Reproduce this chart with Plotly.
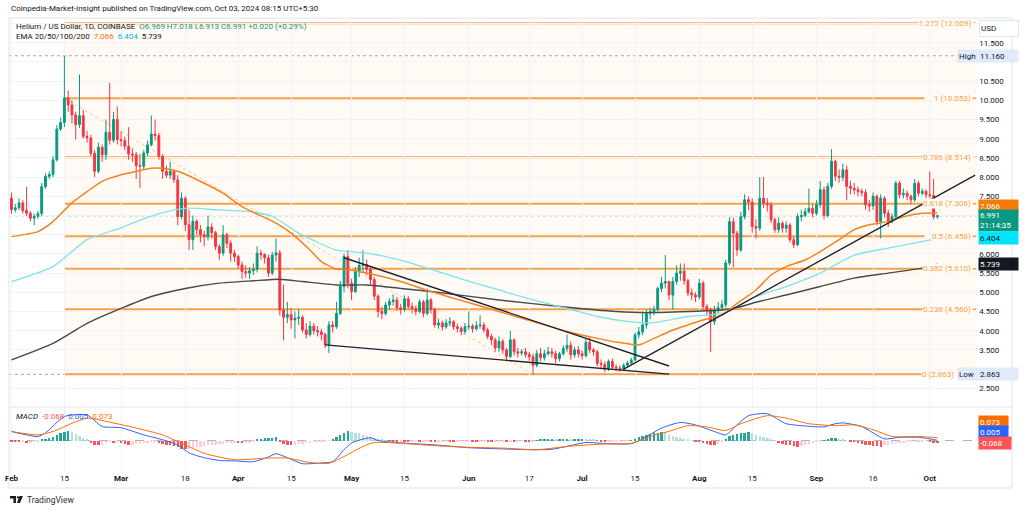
import pandas as pd
import plotly.graph_objects as go

# ---------------- data ----------------
start_date = "2024-02-01"

opens = [7.45,7.15,7.20,7.33,7.13,7.06,6.93,6.98,7.05,7.75,
 8.02,8.07,8.45,9.25,9.42,10.06,9.88,9.62,9.37,9.60,
 9.06,9.02,8.62,8.15,8.78,8.58,9.17,8.96,9.50,8.98,
 8.95,8.80,8.60,8.58,8.30,8.28,8.63,8.84,9.12,9.08,
 8.54,8.15,8.05,8.15,7.93,6.97,7.45,6.76,6.37,6.85,
 6.63,6.50,6.45,6.70,6.55,6.19,6.02,6.50,6.28,6.02,
 5.93,5.71,5.54,5.50,5.56,5.60,6.02,5.98,5.90,5.50,
 5.97,6.03,4.54,4.35,4.42,4.28,4.32,4.35,4.02,3.90,
 4.12,4.00,3.97,3.90,3.63,4.15,4.10,4.45,5.15,5.93,
 5.23,5.02,5.54,5.70,5.72,5.60,5.33,4.90,4.50,4.45,
 4.67,4.76,4.80,4.60,4.55,4.83,4.63,4.58,4.50,4.75,
 4.45,4.80,4.55,4.15,4.20,4.10,4.20,4.23,4.10,4.06,
 3.98,4.10,4.12,4.05,4.13,4.15,4.02,3.85,3.76,3.55,
 3.72,3.50,3.33,3.76,3.45,3.42,3.45,3.38,3.32,3.10,
 3.40,3.30,3.40,3.45,3.40,3.27,3.40,3.54,3.62,3.37,
 3.50,3.40,3.35,3.70,3.50,3.45,3.15,3.12,3.00,3.20,
 3.05,3.03,3.00,3.10,3.16,3.24,3.89,3.97,4.15,4.45,
 4.50,4.55,5.10,5.24,5.28,4.93,5.28,5.50,5.55,5.30,
 4.98,4.93,4.88,5.24,4.63,4.55,4.24,4.54,4.60,4.68,
 5.76,6.84,6.54,6.10,6.97,7.41,7.35,6.71,6.67,7.45,
 7.32,7.28,6.89,6.63,6.80,6.67,6.75,6.37,6.24,6.97,
 7.00,7.10,7.19,7.06,7.28,7.67,7.00,7.76,8.41,8.02,
 7.99,8.19,7.76,7.71,7.67,7.63,7.60,7.28,7.25,7.50,
 6.84,7.45,7.06,6.84,6.97,7.84,7.54,7.58,7.50,7.41,
 7.84,7.58,7.63,7.54,7.52,6.969]

highs = [7.60,7.30,7.45,7.40,7.75,7.12,7.05,7.12,7.85,8.10,
 8.15,8.55,9.35,9.55,11.16,10.25,10.00,9.70,10.67,9.75,
 9.20,9.10,8.70,8.90,8.85,9.50,10.45,9.70,9.84,9.20,
 9.05,9.30,8.75,8.65,8.60,8.70,8.95,9.60,9.50,9.15,
 8.60,8.30,8.40,8.15,8.05,7.60,7.50,7.15,7.00,6.90,
 6.75,6.60,7.00,6.80,6.60,6.25,6.75,6.55,6.35,6.10,
 5.98,5.80,5.70,5.65,5.75,6.20,6.10,6.02,5.98,6.05,
 6.40,6.10,5.20,4.75,4.60,4.50,4.55,4.40,4.20,4.25,
 4.20,4.12,4.05,3.95,4.25,4.25,4.75,5.30,6.00,6.10,
 5.35,5.65,5.90,6.10,5.85,5.65,5.40,4.95,4.62,4.75,
 4.85,4.95,4.88,4.70,4.92,4.90,4.72,4.65,4.82,4.80,
 5.10,4.85,4.60,4.30,4.25,4.30,4.35,4.28,4.18,4.12,
 4.20,4.50,4.18,4.25,4.40,4.22,4.08,3.92,3.82,3.85,
 3.78,3.55,4.00,3.80,3.55,3.52,3.55,3.45,3.40,3.50,
 3.55,3.50,3.58,3.55,3.48,3.45,3.62,3.90,3.72,3.58,
 3.60,3.48,3.78,3.82,3.55,3.50,3.25,3.20,3.25,3.28,
 3.12,3.10,3.15,3.22,3.30,3.95,4.10,4.50,4.55,4.60,
 4.65,5.15,5.40,5.97,5.30,5.40,5.70,5.75,5.75,5.35,
 5.10,5.00,5.35,5.30,4.70,4.60,4.65,4.75,4.80,5.85,
 6.95,6.95,6.60,7.10,7.55,7.50,7.45,6.90,8.00,8.00,
 7.45,7.35,6.95,6.95,6.85,6.85,6.80,6.45,7.05,7.15,
 7.20,7.70,7.30,7.40,7.90,7.75,7.85,8.73,8.45,8.20,
 8.35,8.30,7.90,7.85,7.75,7.70,7.68,7.40,7.60,7.55,
 7.55,7.50,7.15,7.05,7.90,7.90,7.70,7.65,7.55,7.95,
 7.90,7.70,7.68,8.15,7.95,7.018]

lows = [7.05,7.08,7.15,7.05,6.98,6.85,6.75,6.92,6.98,7.70,
 7.95,8.00,8.40,9.20,9.30,9.70,9.40,8.98,9.28,9.00,
 8.90,8.55,8.00,8.10,8.40,8.45,8.85,8.90,8.85,8.80,
 8.70,8.45,8.40,7.95,7.72,8.20,8.55,8.80,8.95,8.45,
 7.95,7.98,7.95,7.85,6.75,6.90,6.60,6.10,6.10,6.50,
 6.30,6.20,6.35,6.40,6.10,5.85,5.95,6.15,5.80,5.80,
 5.60,5.35,5.38,5.35,5.45,5.52,5.85,5.75,5.40,5.45,
 5.80,4.40,3.75,4.20,4.05,3.80,4.15,3.95,3.80,3.85,
 3.90,3.85,3.75,3.55,3.42,3.95,4.05,4.40,5.00,5.10,
 4.80,4.98,5.40,5.50,5.45,5.20,4.80,4.35,4.30,4.40,
 4.55,4.65,4.52,4.42,4.50,4.55,4.45,4.40,4.45,4.35,
 4.40,4.45,4.08,4.05,4.00,4.05,4.12,4.02,3.95,3.88,
 3.90,4.02,3.95,4.00,4.05,3.95,3.78,3.62,3.45,3.45,
 3.40,3.20,3.28,3.35,3.30,3.35,3.30,3.22,2.863,3.05,
 3.20,3.22,3.35,3.30,3.15,3.20,3.35,3.45,3.25,3.30,
 3.30,3.25,3.30,3.42,3.35,3.08,3.02,2.92,2.95,2.98,
 2.95,2.93,2.95,3.05,3.12,3.20,3.80,3.88,4.05,4.30,
 4.40,4.50,5.00,5.10,4.80,4.55,5.20,5.30,5.20,4.90,
 4.80,4.75,4.82,4.55,4.40,3.45,4.15,4.45,4.55,4.60,
 5.70,5.65,5.95,6.05,6.90,7.15,6.55,6.40,6.60,7.20,
 7.10,6.80,6.55,6.55,6.55,6.55,6.30,6.15,6.20,6.85,
 6.95,7.05,6.95,7.00,7.20,6.90,6.95,7.70,7.90,7.85,
 7.90,7.40,7.55,7.55,7.50,7.50,7.15,7.10,7.15,6.75,
 6.40,6.95,6.70,6.80,6.90,7.45,7.45,7.40,7.30,7.35,
 7.50,7.52,7.45,7.45,6.90,6.913]

closes = [7.15,7.20,7.33,7.13,7.06,6.93,6.98,7.05,7.75,8.02,
 8.07,8.45,9.25,9.42,10.06,9.88,9.62,9.37,9.60,9.06,
 9.02,8.62,8.15,8.78,8.58,9.17,8.96,9.50,8.98,8.95,
 8.80,8.60,8.58,8.30,8.28,8.63,8.84,9.12,9.08,8.54,
 8.15,8.05,8.15,7.93,6.97,7.45,6.76,6.37,6.85,6.63,
 6.50,6.45,6.70,6.55,6.19,6.02,6.50,6.28,6.02,5.93,
 5.71,5.54,5.50,5.56,5.60,6.02,5.98,5.90,5.50,5.97,
 6.03,4.54,4.35,4.42,4.28,4.32,4.35,4.02,3.90,4.12,
 4.00,3.97,3.90,3.63,4.15,4.10,4.45,5.15,5.93,5.23,
 5.02,5.54,5.70,5.72,5.60,5.33,4.90,4.50,4.45,4.67,
 4.76,4.80,4.60,4.55,4.83,4.63,4.58,4.50,4.75,4.45,
 4.80,4.55,4.15,4.20,4.10,4.20,4.23,4.10,4.06,3.98,
 4.10,4.12,4.05,4.13,4.15,4.02,3.85,3.76,3.55,3.72,
 3.50,3.33,3.76,3.45,3.42,3.45,3.38,3.32,3.10,3.40,
 3.30,3.40,3.45,3.40,3.27,3.40,3.54,3.62,3.37,3.50,
 3.40,3.35,3.70,3.50,3.45,3.15,3.12,3.00,3.20,3.05,
 3.03,3.00,3.10,3.16,3.24,3.89,3.97,4.15,4.45,4.50,
 4.55,5.10,5.24,5.28,4.93,5.28,5.50,5.55,5.30,4.98,
 4.93,4.88,5.24,4.63,4.55,4.24,4.54,4.60,4.68,5.76,
 6.84,6.54,6.10,6.97,7.41,7.35,6.71,6.67,7.45,7.32,
 7.28,6.89,6.63,6.80,6.67,6.75,6.37,6.24,6.97,7.00,
 7.10,7.19,7.06,7.28,7.67,7.00,7.76,8.41,8.02,7.99,
 8.19,7.76,7.71,7.67,7.63,7.60,7.28,7.25,7.50,6.84,
 7.45,7.06,6.84,6.97,7.84,7.54,7.58,7.50,7.41,7.84,
 7.58,7.63,7.54,7.52,6.969,6.991]

ema20_dates = ["2024-02-01","2024-02-08","2024-02-12","2024-02-17","2024-02-21","2024-02-25",
 "2024-03-01","2024-03-05","2024-03-09","2024-03-12","2024-03-16","2024-03-23","2024-03-28",
 "2024-04-02","2024-04-11","2024-04-15","2024-04-20","2024-04-23","2024-04-27","2024-04-29",
 "2024-05-05","2024-05-14","2024-05-22","2024-05-31","2024-06-09","2024-06-18","2024-06-27",
 "2024-07-05","2024-07-11","2024-07-16","2024-07-20","2024-07-25","2024-07-29","2024-08-02",
 "2024-08-07","2024-08-11","2024-08-16","2024-08-20","2024-08-24","2024-08-29","2024-09-02",
 "2024-09-07","2024-09-11","2024-09-15","2024-09-20","2024-09-24","2024-09-29","2024-10-03"]
ema20_vals = [6.45,6.58,6.84,7.33,7.62,7.89,
 8.06,8.15,8.23,8.23,8.15,7.84,7.58,
 7.23,6.80,6.54,6.10,5.80,5.60,5.60,
 5.50,5.28,5.02,4.76,4.50,4.24,3.98,
 3.80,3.69,3.63,3.80,4.02,4.15,4.28,
 4.41,4.71,5.06,5.45,5.67,5.84,6.06,
 6.37,6.63,6.76,6.84,6.97,7.06,7.066]

ema50_dates = ["2024-02-01","2024-02-12","2024-02-21","2024-03-01","2024-03-08","2024-03-14",
 "2024-03-19","2024-03-26","2024-04-04","2024-04-10","2024-04-17","2024-04-27","2024-05-05",
 "2024-05-14","2024-05-22","2024-05-31","2024-06-09","2024-06-18","2024-06-27","2024-07-05",
 "2024-07-14","2024-07-20","2024-07-29","2024-08-07","2024-08-16","2024-08-24","2024-09-02",
 "2024-09-11","2024-09-20","2024-09-29","2024-10-03"]
ema50_vals = [5.28,5.67,6.37,6.68,6.95,7.12,
 7.19,7.15,7.10,6.98,6.54,6.10,6.02,
 5.84,5.60,5.32,5.06,4.80,4.58,4.37,
 4.23,4.21,4.37,4.45,4.89,5.15,5.50,
 5.97,6.15,6.32,6.404]

ema200_dates = ["2024-02-01","2024-02-12","2024-02-21","2024-03-01","2024-03-09","2024-03-18",
 "2024-03-27","2024-04-05","2024-04-12","2024-04-18","2024-04-27","2024-05-05","2024-05-14",
 "2024-05-22","2024-06-09","2024-06-27","2024-07-10","2024-07-18","2024-07-29","2024-08-07",
 "2024-08-11","2024-08-16","2024-08-24","2024-09-02","2024-09-11","2024-09-20","2024-09-29",
 "2024-10-03"]
ema200_vals = [3.24,3.67,4.19,4.58,4.89,5.10,
 5.24,5.30,5.34,5.28,5.19,5.19,5.10,
 5.02,4.80,4.61,4.50,4.47,4.50,4.54,
 4.60,4.74,4.93,5.15,5.37,5.50,5.63,
 5.739]

macd_dates = ["2024-02-01","2024-02-08","2024-02-10","2024-02-15","2024-02-21","2024-02-25",
 "2024-03-01","2024-03-07","2024-03-12","2024-03-16","2024-03-19","2024-03-23","2024-03-27",
 "2024-03-31","2024-04-05","2024-04-09","2024-04-11","2024-04-14","2024-04-18","2024-04-23",
 "2024-04-26","2024-04-29","2024-05-01","2024-05-06","2024-05-08","2024-05-14","2024-05-23",
 "2024-06-01","2024-06-10","2024-06-17","2024-06-23","2024-07-02","2024-07-06","2024-07-14",
 "2024-07-17","2024-07-22","2024-07-27","2024-07-31","2024-08-06","2024-08-08","2024-08-11",
 "2024-08-14","2024-08-19","2024-08-24","2024-08-31","2024-09-03","2024-09-06","2024-09-08",
 "2024-09-13","2024-09-19","2024-09-23","2024-09-28","2024-10-01","2024-10-03"]
macd_vals = [0.225,0.10,0.19,0.60,0.64,0.35,
 0.32,0.14,0.02,-0.11,-0.31,-0.43,-0.50,
 -0.51,-0.53,-0.41,-0.33,-0.43,-0.58,-0.56,
 -0.53,-0.23,-0.06,0.07,0.0,-0.06,-0.11,
 -0.18,-0.21,-0.23,-0.22,-0.05,-0.07,-0.08,
 0.04,0.31,0.45,0.39,0.19,0.14,0.39,
 0.62,0.67,0.42,0.35,0.34,0.42,0.44,
 0.35,0.04,0.08,0.08,0.04,0.005]

signal_dates = ["2024-02-01","2024-02-08","2024-02-12","2024-02-17","2024-02-21","2024-02-25",
 "2024-03-05","2024-03-12","2024-03-17","2024-03-23","2024-03-31","2024-04-09","2024-04-14",
 "2024-04-20","2024-04-25","2024-04-29","2024-05-04","2024-05-07","2024-05-14","2024-05-23",
 "2024-06-01","2024-06-10","2024-06-19","2024-06-27","2024-07-06","2024-07-14","2024-07-19",
 "2024-07-24","2024-07-29","2024-08-03","2024-08-08","2024-08-12","2024-08-19","2024-08-24",
 "2024-08-30","2024-09-06","2024-09-11","2024-09-16","2024-09-21","2024-09-28","2024-10-03"]
signal_vals = [0.225,0.14,0.225,0.43,0.56,0.50,
 0.31,0.14,-0.07,-0.32,-0.48,-0.44,-0.44,
 -0.55,-0.57,-0.40,-0.15,-0.05,-0.07,-0.13,
 -0.17,-0.19,-0.23,-0.15,-0.09,-0.07,0.10,
 0.23,0.37,0.34,0.25,0.42,0.62,0.56,
 0.42,0.37,0.39,0.27,0.10,0.10,0.073]

hist_vals = [-0.02,-0.03,-0.04,-0.04,-0.05,-0.05,-0.04,-0.03,0.02,0.04,
 0.06,0.10,0.14,0.18,0.22,0.25,0.22,0.17,0.12,0.07,
 0.03,-0.06,-0.10,-0.12,-0.10,-0.05,-0.03,-0.06,-0.04,-0.05,
 -0.08,-0.10,-0.10,-0.09,-0.08,-0.06,-0.05,-0.04,-0.03,-0.06,
 -0.08,-0.10,-0.12,-0.14,-0.17,-0.20,-0.22,-0.20,-0.19,-0.17,
 -0.15,-0.14,-0.12,-0.11,-0.10,-0.09,-0.08,-0.07,-0.06,-0.05,
 -0.06,-0.07,-0.07,-0.05,-0.02,0.03,0.05,0.06,0.06,0.07,
 0.08,-0.04,-0.08,-0.10,-0.11,-0.10,-0.09,-0.08,-0.06,-0.05,
 -0.04,-0.03,-0.02,-0.02,-0.01,0.05,0.10,0.15,0.20,0.24,
 0.22,0.20,0.18,0.15,0.12,0.09,0.06,0.04,0.02,0.01,
 -0.01,-0.02,-0.03,-0.02,-0.03,-0.04,-0.03,-0.02,-0.03,-0.02,
 -0.01,-0.02,-0.03,-0.03,-0.02,-0.02,-0.03,-0.04,-0.03,-0.02,
 -0.02,-0.01,-0.02,-0.03,-0.02,-0.02,-0.03,-0.04,-0.04,-0.03,
 -0.02,-0.03,-0.02,-0.03,-0.02,-0.01,-0.02,-0.03,-0.02,0.01,
 0.02,0.02,0.03,0.03,0.02,0.02,0.03,0.04,0.03,0.03,
 0.04,0.05,0.04,0.03,0.02,-0.01,-0.02,-0.03,-0.03,-0.02,
 -0.02,-0.02,-0.01,-0.01,0.01,0.05,0.08,0.11,0.14,0.16,
 0.18,0.20,0.22,0.18,0.15,0.12,0.09,0.06,0.04,0.03,
 0.01,-0.02,-0.04,-0.07,-0.09,-0.11,-0.12,-0.08,-0.03,0.05,
 0.12,0.15,0.16,0.18,0.20,0.22,0.18,0.15,0.12,0.09,
 0.06,0.03,0.01,-0.05,-0.08,-0.10,-0.12,-0.14,-0.15,-0.13,
 -0.10,-0.08,-0.06,-0.04,-0.02,0.01,0.05,0.06,0.06,0.05,
 0.02,0.00,-0.02,-0.04,-0.06,-0.08,-0.10,-0.12,-0.13,-0.14,
 -0.15,-0.12,-0.10,-0.08,-0.07,-0.06,-0.05,-0.04,-0.03,-0.02,
 -0.02,-0.02,-0.01,-0.02,-0.05,-0.068]

fib_ratios = ["1.272", "1", "0.786", "0.618", "0.5", "0.382", "0.236", "0"]
fib_prices = [12.009, 10.053, 8.514, 7.306, 6.458, 5.610, 4.560, 2.863]
fib_start = "2024-02-15"
fib_trend_dates = ["2024-02-15", "2024-06-18"]
fib_trend_prices = [10.053, 2.863]

high_price, low_price = 11.160, 2.863
last_price = 6.991

# trendlines (date, price endpoints)
trend_lines = [
    (["2024-04-29", "2024-07-24"], [5.90, 3.08]),
    (["2024-04-24", "2024-07-24"], [3.63, 2.87]),
    (["2024-07-12", "2024-10-13"], [3.00, 8.05]),
]

# price scale ticks; labels hidden behind the right-hand value boxes are left blank
price_ticks = [2.5, 3.0, 3.5, 4.0, 4.5, 5.0, 5.5, 6.0, 6.5, 7.0, 7.5, 8.0, 8.5, 9.0, 9.5,
               10.0, 10.5, 11.0, 11.5, 12.0]
hidden_price_ticks = [3.0, 6.5, 7.0, 11.0, 12.0]

tick_dates = ["2024-02-01","2024-02-15","2024-03-01","2024-03-18","2024-04-01","2024-04-15",
 "2024-05-01","2024-05-15","2024-06-01","2024-06-17","2024-07-01","2024-07-15","2024-08-01",
 "2024-08-15","2024-09-01","2024-09-16","2024-10-01"]
tick_text = ["<b>Feb</b>","15","<b>Mar</b>","18","<b>Apr</b>","15","<b>May</b>","15","<b>Jun</b>","17",
 "<b>Jul</b>","15","<b>Aug</b>","15","<b>Sep</b>","16","<b>Oct</b>"]

# ---------------- geometry helpers (layout only) ----------------
W, H = 1024, 511
DAYPX = 3.794
X0PX = 7.5
base = pd.Timestamp(start_date)

def px(x):
    return x / W

def py(y):
    return 1 - y / H

def xdate(p):
    return (base + pd.Timedelta(days=(p - X0PX) / DAYPX)).isoformat()

GREEN = "#089981"
RED = "#f23645"
FIBC = "#f7a249"
SHADE = "#fffaf3"
FONT = "Roboto, Arial, sans-serif"
TXT = "#131722"

dates = pd.date_range(start_date, periods=len(closes), freq="D")

fig = go.Figure()

fig.add_trace(go.Candlestick(
    x=dates, open=opens, high=highs, low=lows, close=closes,
    increasing=dict(line=dict(color=GREEN, width=1), fillcolor=GREEN),
    decreasing=dict(line=dict(color=RED, width=1), fillcolor=RED),
    whiskerwidth=0, showlegend=False, hoverinfo="skip", xaxis="x", yaxis="y"))

fig.add_trace(go.Scatter(x=ema200_dates, y=ema200_vals, mode="lines", line=dict(color="#4a4a4a", width=1.4, shape="spline", smoothing=0.6), xaxis="x", yaxis="y", hoverinfo="skip", showlegend=False))
fig.add_trace(go.Scatter(x=ema50_dates, y=ema50_vals, mode="lines", line=dict(color="#7fe3ee", width=1.3, shape="spline", smoothing=0.6), xaxis="x", yaxis="y", hoverinfo="skip", showlegend=False))
fig.add_trace(go.Scatter(x=ema20_dates, y=ema20_vals, mode="lines", line=dict(color="#f5821f", width=1.5, shape="spline", smoothing=0.6), xaxis="x", yaxis="y", hoverinfo="skip", showlegend=False))

# MACD histogram colors
hcols = []
prev = 0.0
for v in hist_vals:
    if v >= 0:
        hcols.append("#26a69a" if v >= prev else "#b2dfdb")
    else:
        hcols.append("#ff5252" if v < prev else "#ffcdd2")
    prev = v

fig.add_trace(go.Bar(x=dates, y=hist_vals, marker=dict(color=hcols, line=dict(width=0)),
                     width=0.62 * 86400000, xaxis="x", yaxis="y2", hoverinfo="skip", showlegend=False))
fig.add_trace(go.Scatter(x=macd_dates, y=macd_vals, mode="lines", line=dict(color="#2962ff", width=1, shape="spline", smoothing=0.6), xaxis="x", yaxis="y2", hoverinfo="skip", showlegend=False))
fig.add_trace(go.Scatter(x=signal_dates, y=signal_vals, mode="lines", line=dict(color="#ff6d00", width=1, shape="spline", smoothing=0.6), xaxis="x", yaxis="y2", hoverinfo="skip", showlegend=False))

shapes = []
# fib background
shapes.append(dict(type="rect", xref="x", yref="y", x0=fib_start, x1=xdate(977), y0=fib_prices[-1], y1=fib_prices[0],
                   fillcolor=SHADE, line=dict(width=0), layer="below"))
# high / low / last dotted lines
for pr, col in [(high_price, "#a3a6af"), (low_price, "#a3a6af"), (last_price, "#7fb9ae")]:
    shapes.append(dict(type="line", xref="x", yref="y", x0=xdate(5), x1=xdate(977), y0=pr, y1=pr,
                       line=dict(color=col, width=1, dash="dot"), layer="below"))
# fib lines
for pr in fib_prices:
    shapes.append(dict(type="line", xref="x", yref="y", x0=fib_start, x1=xdate(924), y0=pr, y1=pr,
                       line=dict(color=FIBC, width=2), layer="below"))
    if pr != low_price:
        shapes.append(dict(type="line", xref="x", yref="y", x0=xdate(972.5), x1=xdate(976), y0=pr, y1=pr,
                           line=dict(color=FIBC, width=1.5), layer="below"))
# fib diagonal
shapes.append(dict(type="line", xref="x", yref="y", x0=fib_trend_dates[0], x1=fib_trend_dates[1],
                   y0=fib_trend_prices[0], y1=fib_trend_prices[1],
                   line=dict(color="#f9c48e", width=1, dash="dot"), layer="below"))
# trendlines
for (tx, ty) in trend_lines:
    shapes.append(dict(type="line", xref="x", yref="y", x0=tx[0], x1=tx[1], y0=ty[0], y1=ty[1],
                       line=dict(color="#1e222d", width=1.4), layer="above"))
# macd zero line
shapes.append(dict(type="line", xref="x", yref="y2", x0=xdate(5), x1=xdate(976), y0=0, y1=0,
                   line=dict(color="#b2b5be", width=1, dash="dash"), layer="below"))
# pane borders
BORDER = "#e0e3eb"
shapes.append(dict(type="rect", xref="paper", yref="paper", x0=px(5), x1=px(1012), y0=py(488), y1=py(18),
                   line=dict(color=BORDER, width=1), fillcolor="rgba(0,0,0,0)", layer="above"))
shapes.append(dict(type="line", xref="paper", yref="paper", x0=px(5), x1=px(1012), y0=py(407), y1=py(407),
                   line=dict(color=BORDER, width=1), layer="above"))
# TradingView logo glyph
shapes.append(dict(type="path", xref="paper", yref="paper",
                   path=f"M {px(6)} {py(496)} L {px(12)} {py(496)} L {px(12)} {py(503)} L {px(9.5)} {py(503)} L {px(9.5)} {py(498.5)} L {px(6)} {py(498.5)} Z",
                   fillcolor=TXT, line=dict(width=0)))
shapes.append(dict(type="circle", xref="paper", yref="paper", x0=px(12.8), x1=px(15.0), y0=py(498.6), y1=py(496.3),
                   fillcolor=TXT, line=dict(width=0)))
shapes.append(dict(type="path", xref="paper", yref="paper",
                   path=f"M {px(15.5)} {py(496)} L {px(19)} {py(496)} L {px(16)} {py(503)} L {px(13)} {py(503)} Z",
                   fillcolor=TXT, line=dict(width=0)))

ann = []

def label(text, x, y, xanchor="left", size=8, color=TXT, **kw):
    ann.append(dict(text=text, x=px(x), y=py(y), xref="paper", yref="paper", showarrow=False,
                    xanchor=xanchor, yanchor="middle", font=dict(family=FONT, size=size, color=color), **kw))

label("Coinpedia-Market-Insight published on TradingView.com, Oct 03, 2024 08:15 UTC+5:30", 5, 9)
label("Helium / US Dollar, 1D, COINBASE  <span style='color:#089981'>O6.969 H7.018 L6.913 C6.991 +0.020 (+0.29%)</span>", 10, 26)
label("EMA 20/50/100/200  <span style='color:#ff6d00'>7.066</span>  <span style='color:#00bcd4'>6.404</span>  5.739", 10, 37)
label("<i>MACD</i>  <span style='color:#ff5252'>-0.068</span>  <span style='color:#2962ff'>0.005</span>  <span style='color:#ff6d00'>0.073</span>", 10, 416)
label("TradingView", 21, 500, size=8.5, color="#2a2e39")

# fib labels
fy = lambda p: 42.7 + (11.5 - p) * 38.4
for r, pr in zip(fib_ratios, fib_prices):
    xr = 954.5 if pr == low_price else 971.5
    label(f"{r} ({pr:.3f})", xr, fy(pr), xanchor="right", color=FIBC, bgcolor=SHADE, borderpad=0)

# right-side boxes
def box(text, y, bg, fg, h=10, w=37, x=977.5):
    ann.append(dict(text=text, x=px(x), y=py(y), xref="paper", yref="paper", showarrow=False,
                    xanchor="left", yanchor="middle", align="left", width=w, height=h, borderpad=1,
                    bgcolor=bg, font=dict(family=FONT, size=8, color=fg)))

box("USD", 28, "#ffffff", TXT, h=13, w=36, x=979)
ann[-1]["bordercolor"] = BORDER
ann[-1]["borderwidth"] = 1
box("High", fy(high_price), "#dfeafb", TXT, w=18, x=957)
box(f"{high_price:.3f}", fy(high_price), "#dfeafb", TXT)
box("7.066", 205.5, "#f57c00", "#ffffff")
box("6.991<br>21:14:35", 221, GREEN, "#ffffff", h=19)
box("6.404", 238, "#00e5ff", TXT)
box("5.739", 264, "#131722", "#ffffff")
box("Low", fy(low_price), "#dfeafb", TXT, w=18, x=957)
box(f"{low_price:.3f}", fy(low_price), "#dfeafb", TXT)
box("0.073", 421.7, "#ff6d00", "#ffffff", w=27)
box("0.005", 432, "#2962ff", "#ffffff", w=27)
box("-0.068", 443.3, "#ff5252", "#ffffff", w=30)

price_text = ["" if t in hidden_price_ticks else f"{t:.3f}" for t in price_ticks]

GRID = "#f0f3fa"
fig.update_layout(
    width=W, height=H, margin=dict(l=0, r=0, t=0, b=0),
    paper_bgcolor="#ffffff", plot_bgcolor="#ffffff",
    showlegend=False, bargap=0, dragmode=False,
    font=dict(family=FONT, size=8, color=TXT),
    xaxis=dict(domain=[px(5), px(978)], range=[xdate(5), xdate(978)], anchor="y2",
               showgrid=True, gridcolor=GRID, gridwidth=1, zeroline=False, showline=False,
               tickmode="array", tickvals=tick_dates, ticktext=tick_text, ticks="",
               tickfont=dict(family=FONT, size=8, color=TXT), rangeslider=dict(visible=False)),
    yaxis=dict(domain=[py(407), py(18)], range=[2.013, 12.143], side="right", anchor="x",
               tickmode="array", tickvals=price_ticks, ticktext=price_text,
               showgrid=True, gridcolor=GRID, zeroline=False,
               showline=False, ticks="", tickfont=dict(family=FONT, size=8, color=TXT)),
    yaxis2=dict(domain=[py(472), py(407)], range=[-0.7875, 0.8375], anchor="x",
                showticklabels=False, showgrid=False, zeroline=False, showline=False),
    shapes=shapes, annotations=ann,
)

fig.write_html("out.html")
